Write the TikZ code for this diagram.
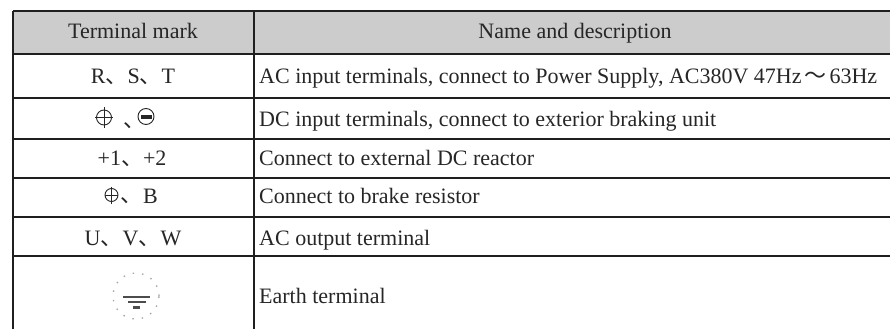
\documentclass[tikz,border=0pt]{standalone}
\usepackage{fontspec}
\setmainfont{Liberation Serif}
\newfontfamily\cjk{Noto Sans CJK SC}
\usetikzlibrary{positioning}

\newcommand{\dun}{{\cjk 、}}

\tikzset{
  rule/.style={line width=1.6pt, draw=black!88},
  cell/.style={font=\fontsize{22}{26}\selectfont, text=black!85, inner sep=0pt, anchor=base},
  desc/.style={cell, anchor=base west},
  sym/.style={line width=0.9pt, draw=black!85},
  plusmark/.pic={\draw[sym] (0,0) circle (7.5pt); \draw[sym] (-9,0) -- (9,0) (0,-10.5) -- (0,10.5);},
  smallplus/.pic={\draw[sym] (0,0) circle (6.5pt); \draw[sym] (-6.5,0) -- (6.5,0) (0,-8.5) -- (0,8.5);},
  minusmark/.pic={\draw[sym] (0,0) circle (8pt); \fill[black!85] (-5.5,-2) rectangle (5.5,2);}
}

\begin{document}
\begin{tikzpicture}[x=1pt, y=-1pt]
    \useasboundingbox (0,0) rectangle (890,329);
    \fill [black!20] (13,11) rectangle (890,54);
    \foreach \y in {11,54,98,139,178,217,256}
        \draw [rule] (13,\y) -- (890,\y);
    \draw [rule] (13,11) -- (13,329);
    \draw [rule] (254,11) -- (254,329);
    % header
    \node [cell] (hdmark) at (133,38) {Terminal mark};
    \node [cell] (hddesc) at (575,38) {Name and description};
    % terminal marks
    \node [cell] (mkrst) at (133,83) {R\dun S\dun T};
    \pic at (104,117.5) {plusmark};
    \node [cell, anchor=base west] (cmdc) at (123,127) {\dun};
    \pic at (146,116.5) {minusmark};
    \node [cell] (mkreac) at (132,165) {+1\dun +2};
    \pic at (111.5,195) {smallplus};
    \node [cell, anchor=base west] (cmbr) at (120,202) {\dun};
    \node [cell, anchor=base west] (mkbr) at (143,203) {B};
    \node [cell] (mkuvw) at (133,245) {U\dun V\dun W};
    % earth
    \draw [gray!70, line width=1.3pt, dash pattern=on 1.5pt off 8pt] (136,296) circle (23pt);
    \draw [black!70, line width=2pt] (123,297) -- (150,297);
    \draw [black!70, line width=1.5pt] (128,302) -- (146,302);
    \fill [black!70] (133,306) rectangle (140,309);
    % descriptions
    \node [desc] (dsac) at (259,83) {AC input terminals, connect to Power Supply, AC380V 47Hz\hspace{3pt}{\cjk ～}\hspace{3pt}63Hz};
    \node [desc] (dsdc) at (259,126) {DC input terminals, connect to exterior braking unit};
    \node [desc] (dsreac) at (259,165) {Connect to external DC reactor};
    \node [desc] (dsbr) at (259,203) {Connect to brake resistor};
    \node [desc] (dsout) at (259,245) {AC output terminal};
    \node [desc] (dsearth) at (259,303) {Earth terminal};
\end{tikzpicture}
\end{document}
